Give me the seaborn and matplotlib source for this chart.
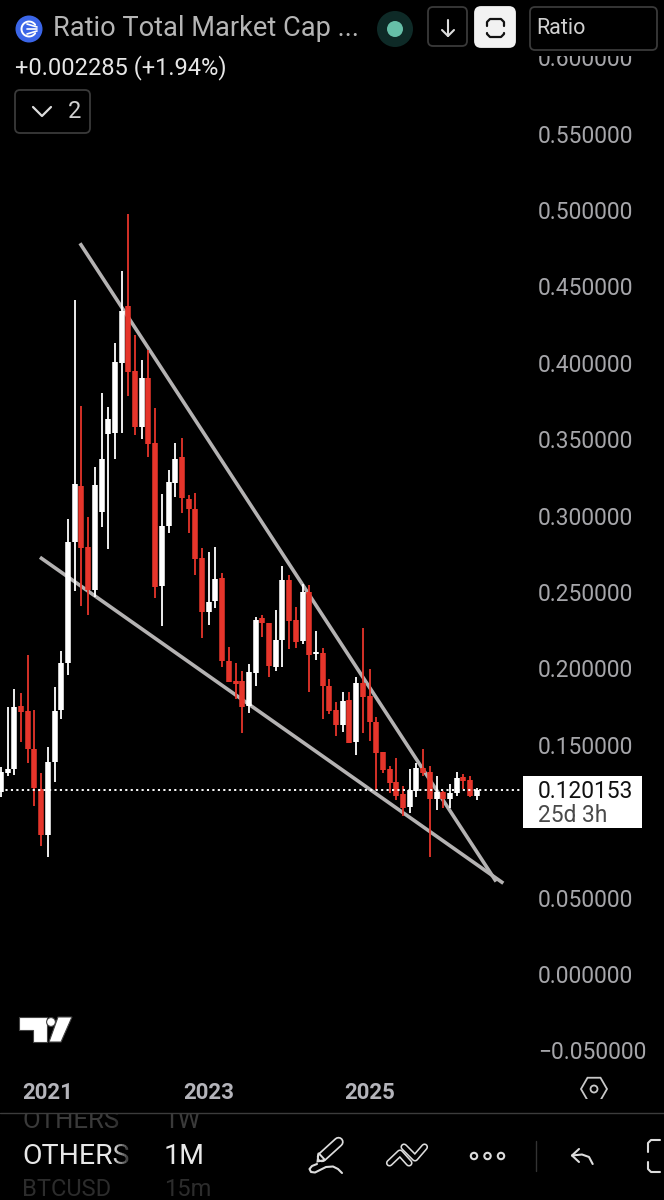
import numpy as np
import pandas as pd
import matplotlib
matplotlib.use('Agg')
import matplotlib.pyplot as plt
import seaborn as sns
from matplotlib.patches import Rectangle, Circle, FancyBboxPatch, Polygon, RegularPolygon

# monthly candles, first one is 2020-06
opens = [.1193,.1317,.1340,.1754,.1721,.1471,.1209,.0910,.1387,.1728,.2033,.2829,.3196,.2796,.2513,.3026,.3534,.3543,.4001,.4372,
         .3944,.3582,.3903,.3473,.2541,.2934,.3215,.3385,.3107,.3041,.2721,.2371,.2441,.2594,.2048,.1920,.1920,.1754,.1972,.2328,
         .2295,.2007,.2186,.2579,.2317,.2181,.2500,.2094,.2103,.1887,.1728,.1632,.1793,.1520,.1906,.1819,.1651,.1453,.1340,.1255,
         .1176,.1091,.1198,.1350,.1320,.1145,.1193,.1145,.1183,.1291,.1270,.1167]
highs = [.1355,.1749,.1863,.1837,.2090,.1728,.1317,.1488,.1876,.2114,.2976,.4411,.3717,.2993,.3320,.3800,.3713,.4132,.4603,.4972,
         .4182,.4018,.4084,.3702,.3141,.3298,.3477,.3506,.3137,.3150,.2790,.2762,.2796,.2626,.2138,.2037,.1985,.2027,.2338,.2348,
         .2295,.2382,.2672,.2611,.2404,.2552,.2546,.2247,.2135,.1931,.1782,.1847,.1846,.1942,.2264,.1994,.1680,.1453,.1361,.1416,
         .1232,.1342,.1379,.1474,.1363,.1296,.1200,.1243,.1322,.1309,.1298,.1217]
lows = [.1158,.1296,.1304,.1520,.1383,.1099,.0838,.0768,.1259,.1671,.1957,.2507,.2410,.2349,.2465,.2927,.2779,.3368,.3543,.3783,
        .3527,.3499,.3382,.2459,.2277,.2888,.3120,.3015,.2884,.2611,.2201,.2286,.2393,.2011,.1909,.1798,.1575,.1710,.1887,.2207,
        .1946,.1985,.2011,.2127,.2132,.2160,.1847,.2055,.1667,.1702,.1558,.1586,.1514,.1433,.1579,.1527,.1204,.1317,.1187,.1139,
        .1036,.1056,.1156,.1296,.0764,.1073,.1088,.1084,.1165,.1209,.1160,.1139]
closes = [.1324,.1340,.1749,.1717,.1471,.1215,.0910,.1387,.1723,.2033,.2825,.3207,.2790,.2513,.3200,.3370,.3634,.4003,.4341,.3942,
          .3578,.3903,.3469,.2535,.2934,.3222,.3368,.3115,.3041,.2714,.2371,.2437,.2585,.2048,.1913,.1898,.1749,.1978,.2317,.2295,
          .2016,.2186,.2577,.2310,.2175,.2500,.2090,.2107,.1885,.1723,.1632,.1787,.1514,.1902,.1811,.1647,.1448,.1335,.1252,.1167,
          .1088,.1204,.1350,.1317,.1145,.1191,.1143,.1185,.1285,.1263,.1165,.1204]

last_price = 0.120153
price_ticks = [0.6, 0.55, 0.5, 0.45, 0.4, 0.35, 0.3, 0.25, 0.2, 0.15, 0.05, 0.0, -0.05]
year_pos = [7, 31, 55]
year_labels = ['2021', '2023', '2025']

# the two hand drawn wedge lines (candle index, price)
upper_idx = [11.79, 73.9]
upper_val = [0.4782, 0.0605]
lower_idx = [5.82, 74.97]
lower_val = [0.2727, 0.0594]

RED = '#e6352b'
WHITE = '#ffffff'
LINE = '#b4b2b2'
AXIS_TXT = '#a6a6aa'

sns.set_theme(style='dark', rc={'figure.facecolor': 'black', 'axes.facecolor': 'black', 'axes.grid': False})
plt.rcParams['font.family'] = ['Roboto', 'DejaVu Sans']

n = len(opens)
idx = np.arange(n)
direction = np.where(np.array(closes) >= np.array(opens), 'up', 'down')
palette = {'up': WHITE, 'down': RED}

wicks = pd.DataFrame({'candle': np.r_[idx, idx], 'price': highs + lows, 'dir': np.r_[direction, direction]})
bodies = pd.DataFrame({'candle': np.r_[idx, idx], 'price': opens + closes, 'dir': np.r_[direction, direction]})
trend = pd.DataFrame({'line': ['u', 'u', 'l', 'l'], 'idx': upper_idx + lower_idx, 'price': upper_val + lower_val})

fig = plt.figure(figsize=(6.64, 12), dpi=100, facecolor='black')
ax = fig.add_axes([0, 125 / 1200, 522 / 664, 1075 / 1200])

sns.lineplot(data=trend, x='idx', y='price', units='line', estimator=None, color=LINE, lw=2.6,
             sort=False, legend=False, ax=ax, zorder=1, solid_capstyle='butt')
sns.lineplot(data=wicks, x='candle', y='price', units='candle', hue='dir', palette=palette, estimator=None,
             lw=1.3, sort=False, legend=False, ax=ax, zorder=2, solid_capstyle='butt')
sns.lineplot(data=bodies, x='candle', y='price', units='candle', hue='dir', palette=palette, estimator=None,
             lw=4.0, sort=False, legend=False, ax=ax, zorder=3, solid_capstyle='butt')
ax.axhline(last_price, color='white', lw=1.4, dashes=(1.1, 1.7), zorder=4)

ax.set_xlim(-0.149, 77.76)
ax.set_ylim(-0.0661, 0.6374)
ax.set_xlabel('')
ax.set_ylabel('')
ax.set_xticks(year_pos)
ax.set_xticklabels(year_labels, fontsize=16, fontweight='bold', color='#b4b4ba')
ax.yaxis.tick_right()
ax.set_yticks(price_ticks)
ax.set_yticklabels([f'{v:.6f}'.replace('-', '\u2212') for v in price_ticks], fontsize=16.4, color=AXIS_TXT, ha='left')
ax.tick_params(axis='x', length=0, pad=5)
ax.tick_params(axis='y', length=0, pad=11.5)
for s in ax.spines.values():
    s.set_visible(False)

# app interface on top, in pixel coordinates
ui = fig.add_axes([0, 0, 1, 1], zorder=10)
ui.set_xlim(0, 664)
ui.set_ylim(1200, 0)
ui.axis('off')
ui.patch.set_visible(False)


def box(x0, y0, x1, y1, fc='black', ec='#3a3a3a', lw=1.3, r=5, z=3):
    ui.add_patch(FancyBboxPatch((x0 + r, y0 + r), x1 - x0 - 2 * r, y1 - y0 - 2 * r, boxstyle=f'round,pad={r}',
                                fc=fc, ec=ec, lw=lw, zorder=z))


def stroke(xs, ys, color='#dcdcdc', lw=1.5, z=4):
    ui.plot(xs, ys, color=color, lw=lw, zorder=z, solid_capstyle='round', solid_joinstyle='round')


def outline(xs, ys, w=5.2, inner=2.9):
    # double stroke icons: wide light line with a black line inside
    stroke(xs, ys, lw=w, z=4)
    stroke(xs, ys, color='black', lw=inner, z=5)


# header
ui.add_patch(Rectangle((0, 0), 664, 56, fc='black', ec='none', zorder=1))
ui.add_patch(Circle((29, 29), 13.5, fc='#3b66e8', ec='none', zorder=3))
for dy in (-5, 0, 5):
    stroke([27, 37], [29 + dy, 29 + dy * 0.4], color='white', lw=1.2)
t = np.linspace(0.6, 2 * np.pi - 0.6, 30)
stroke(29 + 7.5 * np.cos(t), 29 + 7.5 * np.sin(t), color='white', lw=1.4)
ui.text(53, 29, 'Ratio Total Market Cap ...', fontsize=19.6, color='#b5b5b5', va='center', ha='left')
ui.text(15, 68, '+0.002285 (+1.94%)', fontsize=17, color='#e6e6e6', va='center', ha='left')
ui.add_patch(Circle((395, 29), 18, fc='#0e2a27', ec='none', zorder=3))
ui.add_patch(Circle((395, 29), 8, fc='#66bfa8', ec='none', zorder=4))
box(428, 7, 467, 46)
stroke([448, 448], [20, 36])
stroke([442, 448, 454], [30, 36, 30])
box(475, 7, 515, 47, fc='#f2f2f2', ec='#f2f2f2', r=6)
stroke([487, 487, 490, 501, 504, 504], [26, 22, 19, 19, 22, 26], color='#111111', lw=1.6, z=5)
stroke([487, 487, 490, 501, 504, 504], [33, 34, 37, 37, 34, 33], color='#111111', lw=1.6, z=5)
box(530, 7, 657, 50)
ui.text(536, 29, 'Ratio', fontsize=15.5, color='#d0d0d0', va='center', ha='left', zorder=5)
box(15, 90, 90, 133)
stroke([33, 42, 51], [107, 116, 107], color='#dcdcdc', lw=1.6)
ui.text(75, 112, '2', fontsize=17, color='#d0d0d0', va='center', ha='center')

# last price label
ui.add_patch(Rectangle((523, 776), 119, 52, fc='white', ec='none', zorder=3))
ui.text(538, 791, '0.120153', fontsize=16.4, color='#111111', va='center', ha='left', zorder=4)
ui.text(538, 815, '25d 3h', fontsize=16.4, color='#4a4a4a', va='center', ha='left', zorder=4)

# tradingview logo
ui.add_patch(Polygon([(19, 1017), (47, 1017), (47, 1042), (33, 1042), (33, 1030), (19, 1030)], fc='white', ec='#444444', lw=0.8, zorder=3))
ui.add_patch(Circle((51, 1022), 4.4, fc='white', ec='#444444', lw=0.8, zorder=3))
ui.add_patch(Polygon([(58, 1017), (72, 1017), (61, 1042), (49, 1042)], fc='white', ec='#444444', lw=0.8, zorder=3))

# settings hexagon
ui.add_patch(RegularPolygon((594, 1089), 6, radius=13, orientation=np.pi / 6, fc='none', ec='#c8c8c8', lw=1.3, zorder=3))
ui.add_patch(Circle((594, 1089), 3.5, fc='none', ec='#c8c8c8', lw=1.3, zorder=3))

# bottom toolbar
ui.text(22, 1121, 'OTHERS', fontsize=18.5, color='#3a3a3a', va='center', ha='left', zorder=2)
ui.text(164, 1121, '1W', fontsize=18.5, color='#3a3a3a', va='center', ha='left', zorder=2)
ui.text(22, 1157, 'OTHERS', fontsize=20.5, color='#e8e8e8', va='center', ha='left', zorder=2)
ui.text(164, 1157, '1M', fontsize=20.5, color='#e8e8e8', va='center', ha='left', zorder=2)
ui.text(22, 1190, 'BTCUSD', fontsize=17, color='#2c2c2c', va='center', ha='left', zorder=2)
ui.text(164, 1190, '15m', fontsize=17, color='#2c2c2c', va='center', ha='left', zorder=2)
for i, a in enumerate(np.linspace(0.1, 1, 10)):
    ui.add_patch(Rectangle((114 + i * 2, 1100), 2, 100, fc='black', ec='none', alpha=a, zorder=3))
ui.add_patch(Rectangle((134, 1100), 22, 100, fc='black', ec='none', zorder=3))
ui.add_patch(Rectangle((0, 1099), 664, 14, fc='black', ec='none', zorder=3.5))
ui.plot([0, 664], [1112.5, 1112.5], color='#3c3c3c', lw=1, zorder=4)

# pen
outline([322, 338.5], [1157, 1142], w=7.5, inner=5)
ui.add_patch(Polygon([(317.5, 1161.5), (318.5, 1153), (325, 1160)], fc='none', ec='#dcdcdc', lw=1.4, zorder=6))
stroke([317, 312, 309.5, 311, 315, 320, 326, 333, 338, 342],
       [1164, 1166, 1169, 1172, 1172.5, 1170, 1167, 1166.5, 1169, 1173])
# trend tool
outline([389.5, 400, 409], [1163, 1153, 1163])
outline([404, 415, 424.5], [1147, 1158, 1147])
# dots
for cx in (474, 487.5, 501):
    ui.add_patch(Circle((cx, 1156), 3.2, fc='none', ec='#dcdcdc', lw=1.5, zorder=4))
ui.plot([535.5, 535.5], [1141, 1171], color='#333333', lw=1, zorder=4)
# undo
stroke([572, 582, 589, 592.7], [1155.5, 1154.5, 1157, 1164])
stroke([579, 572, 579], [1149, 1155.5, 1162])
# corner bracket cut off at the right edge
stroke([660, 651, 648, 648], [1140, 1140, 1143, 1152])
stroke([648, 648, 651, 660], [1162, 1169, 1172, 1172])

fig.savefig('out.png', dpi=100, facecolor='black')
